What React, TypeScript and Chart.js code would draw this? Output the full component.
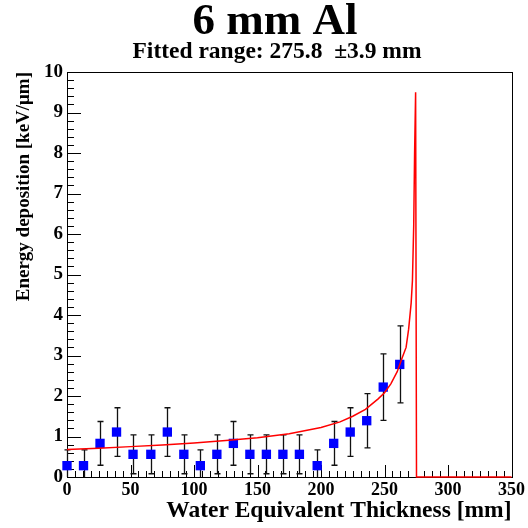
import React, { useEffect, useRef } from 'react';
import { Chart, registerables } from 'chart.js';

Chart.register(...registerables);

const titleText = '6 mm Al';
const subtitleText = 'Fitted range: 275.8  \u00B13.9 mm';
const xAxisTitle = 'Water Equivalent Thickness [mm]';
const yAxisTitle = 'Energy deposition [keV/\u03BCm]';

// measured points (water equivalent thickness in mm)
const thickness = [0, 13, 26, 39, 52, 66, 79, 92, 105, 118, 131, 144, 157, 170, 183, 197, 210, 223, 236, 249, 262];
const deposition = [0.28, 0.28, 0.83, 1.11, 0.56, 0.56, 1.11, 0.56, 0.28, 0.56, 0.83, 0.56, 0.56, 0.56, 0.56, 0.28, 0.83, 1.11, 1.39, 2.22, 2.78];
const depositionErr = [0.39, 0.39, 0.54, 0.6, 0.48, 0.48, 0.6, 0.48, 0.39, 0.48, 0.54, 0.48, 0.48, 0.48, 0.48, 0.39, 0.54, 0.6, 0.67, 0.82, 0.95];

// fitted Bragg curve
const fitX = [0, 25, 50, 75, 100, 125, 150, 175, 200, 215, 225, 235, 245, 250, 255, 260, 264, 267, 269, 271, 272, 273, 273.7, 274.5, 275.2, 350];
const fitY = [0.68, 0.71, 0.75, 0.79, 0.84, 0.9, 0.97, 1.07, 1.22, 1.36, 1.5, 1.67, 1.93, 2.08, 2.3, 2.6, 2.95, 3.2, 3.65, 4.3, 4.85, 6.2, 8.0, 9.5, 0, 0];

const X_MIN = 0;
const X_MAX = 350;
const Y_MIN = 0;
const Y_MAX = 10;

const FONT = '"Liberation Serif", "Times New Roman", serif';

const framePlugin = {
  id: 'rootFrame',
  beforeDatasetsDraw(chart: any) {
    const { ctx, chartArea, scales } = chart;
    const x = scales.x;
    const y = scales.y;
    const { left, right, top, bottom } = chartArea;
    ctx.save();
    ctx.strokeStyle = '#000';
    ctx.lineWidth = 1;
    ctx.strokeRect(Math.round(left) + 0.5, Math.round(top) + 0.5, Math.round(right - left), Math.round(bottom - top));
    ctx.beginPath();
    // y ticks (major every 1, minor every 0.2)
    for (let i = 0; i <= 50; i++) {
      const v = Y_MIN + i * 0.2;
      const py = Math.round(y.getPixelForValue(v)) + 0.5;
      const len = i % 5 === 0 ? 14 : 7;
      ctx.moveTo(left, py);
      ctx.lineTo(left + len, py);
    }
    // x ticks (major every 50, minor every 6.25)
    for (let i = 0; i <= 56; i++) {
      const v = X_MIN + i * 6.25;
      const px = Math.round(x.getPixelForValue(v)) + 0.5;
      const len = i % 8 === 0 ? 12 : 6;
      ctx.moveTo(px, bottom);
      ctx.lineTo(px, bottom - len);
    }
    ctx.stroke();
    ctx.restore();
  },
};

const errorBarPlugin = {
  id: 'errorBars',
  beforeDatasetsDraw(chart: any) {
    const { ctx, scales } = chart;
    const x = scales.x;
    const y = scales.y;
    ctx.save();
    ctx.strokeStyle = '#111';
    ctx.lineWidth = 1.3;
    ctx.beginPath();
    thickness.forEach((t, i) => {
      const px = Math.round(x.getPixelForValue(t)) + 0.5;
      const hiV = Math.min(Y_MAX, deposition[i] + depositionErr[i]);
      const loV = deposition[i] - depositionErr[i];
      const top = y.getPixelForValue(hiV);
      const bot = y.getPixelForValue(Math.max(Y_MIN, loV));
      ctx.moveTo(px, top);
      ctx.lineTo(px, bot);
      ctx.moveTo(px - 3, top);
      ctx.lineTo(px + 3, top);
      if (loV > Y_MIN) {
        ctx.moveTo(px - 3, bot);
        ctx.lineTo(px + 3, bot);
      }
    });
    ctx.stroke();
    ctx.restore();
  },
};

const titlePlugin = {
  id: 'rootTitles',
  afterDraw(chart: any) {
    const { ctx } = chart;
    ctx.save();
    ctx.fillStyle = '#000';
    ctx.textAlign = 'center';
    ctx.textBaseline = 'alphabetic';
    ctx.font = `bold 45px ${FONT}`;
    ctx.fillText(titleText, 275, 34);
    ctx.font = `bold 23.5px ${FONT}`;
    ctx.fillText(subtitleText, 277, 58);
    ctx.restore();
  },
};

export default function App() {
  const canvasRef = useRef<HTMLCanvasElement | null>(null);

  useEffect(() => {
    const canvas = canvasRef.current;
    if (!canvas) return;
    const chart = new Chart(canvas, {
      type: 'scatter',
      data: {
        datasets: [
          {
            label: 'fit',
            type: 'line',
            data: fitX.map((v, i) => ({ x: v, y: fitY[i] })),
            borderColor: '#ff0000',
            borderWidth: 1.5,
            pointRadius: 0,
            fill: false,
            tension: 0,
            order: 0,
            clip: false,
          } as any,
          {
            label: 'data',
            data: thickness.map((v, i) => ({ x: v, y: deposition[i] })),
            pointStyle: 'rect',
            pointRadius: 6.6,
            backgroundColor: '#0000ff',
            borderColor: '#0000ff',
            borderWidth: 0,
            order: 1,
            clip: false,
          } as any,
        ],
      },
      options: {
        responsive: false,
        animation: false,
        layout: { padding: { top: 72, right: 13, left: 0, bottom: 0 } },
        plugins: {
          legend: { display: false },
          tooltip: { enabled: false },
          title: { display: false },
        },
        scales: {
          x: {
            type: 'linear',
            min: X_MIN,
            max: X_MAX,
            border: { display: false },
            grid: { display: false, drawTicks: false },
            ticks: {
              stepSize: 50,
              padding: 3,
              color: '#000',
              autoSkip: false,
              maxRotation: 0,
              font: { family: FONT, size: 18, weight: 'bold' },
            },
            title: {
              display: true,
              text: xAxisTitle,
              align: 'end',
              color: '#000',
              font: { family: FONT, size: 23.5, weight: 'bold' },
              padding: { top: 0, bottom: 3 },
            },
            afterFit: (s: any) => {
              s.height = 51;
            },
          },
          y: {
            type: 'linear',
            min: Y_MIN,
            max: Y_MAX,
            border: { display: false },
            grid: { display: false, drawTicks: false },
            ticks: {
              stepSize: 1,
              padding: 4,
              color: '#000',
              autoSkip: false,
              font: { family: FONT, size: 19, weight: 'bold' },
            },
            title: {
              display: true,
              text: yAxisTitle,
              align: 'end',
              color: '#000',
              font: { family: FONT, size: 19, weight: 'bold' },
              padding: { top: 13, bottom: 0 },
            },
            afterFit: (s: any) => {
              s.width = 67;
            },
          },
        },
      } as any,
      plugins: [framePlugin, errorBarPlugin, titlePlugin],
    });
    return () => chart.destroy();
  }, []);

  return (
    <div style={{ position: 'fixed', left: 0, top: 0, width: 528, height: 528, background: '#fff' }}>
      <canvas ref={canvasRef} width={528} height={528} style={{ display: 'block' }} />
    </div>
  );
}
